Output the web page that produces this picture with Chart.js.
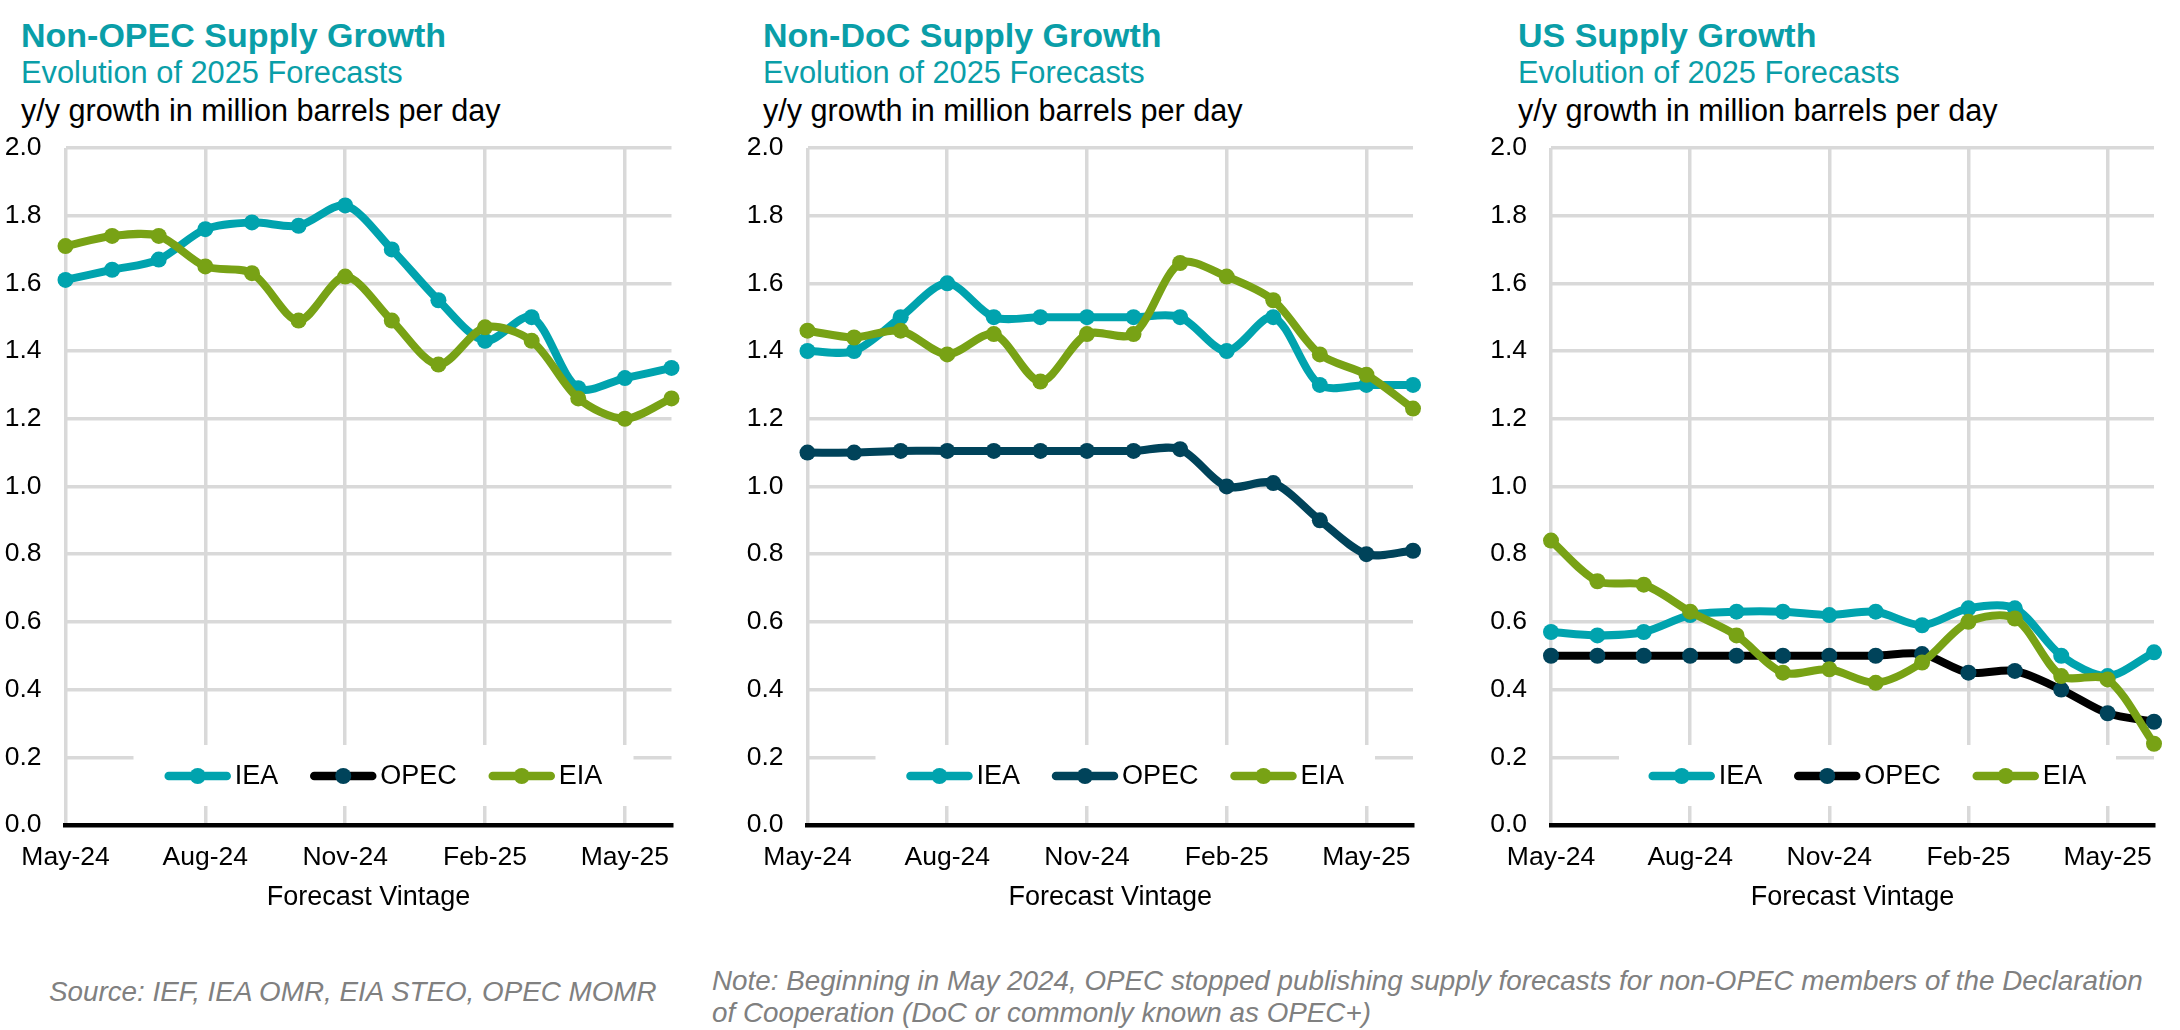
<!DOCTYPE html>
<html>
<head>
<meta charset="utf-8">
<script src="https://cdn.jsdelivr.net/npm/chart.js@4.4.1/dist/chart.umd.min.js"></script>
<style>
  html, body { margin: 0; padding: 0; background: #fff; }
  body { position: relative; width: 2180px; height: 1030px; overflow: hidden; font-family: 'Liberation Sans', Arial, sans-serif; }
  .txt { position: absolute; white-space: nowrap; line-height: 1; }
  .title { font-size: 34px; font-weight: bold; color: #0A9EA8; }
  .sub { font-size: 30.8px; color: #0A9EA8; }
  .unit { font-size: 30.6px; color: #000; }
  .foot { font-size: 27.8px; font-style: italic; color: #808080; }
  canvas { position: absolute; top: 108px; }
</style>
</head>
<body>
  <div class="txt title" style="left:21px;top:18px;">Non-OPEC Supply Growth</div>
  <div class="txt sub"   style="left:21px;top:58px;">Evolution of 2025 Forecasts</div>
  <div class="txt unit"  style="left:21px;top:95px;">y/y growth in million barrels per day</div>

  <div class="txt title" style="left:763px;top:18px;">Non-DoC Supply Growth</div>
  <div class="txt sub"   style="left:763px;top:58px;">Evolution of 2025 Forecasts</div>
  <div class="txt unit"  style="left:763px;top:95px;">y/y growth in million barrels per day</div>

  <div class="txt title" style="left:1518px;top:18px;">US Supply Growth</div>
  <div class="txt sub"   style="left:1518px;top:58px;">Evolution of 2025 Forecasts</div>
  <div class="txt unit"  style="left:1518px;top:95px;">y/y growth in million barrels per day</div>

  <canvas id="nonOpecChart" width="690" height="806" style="left:0px;"></canvas>
  <canvas id="nonDocChart"  width="690" height="806" style="left:740px;"></canvas>
  <canvas id="usChart"      width="700" height="806" style="left:1480px;"></canvas>

  <div class="txt foot" style="left:49px;top:978px;">Source: IEF, IEA OMR, EIA STEO, OPEC MOMR</div>
  <div class="txt foot" style="left:712px;top:965px;line-height:32px;">Note: Beginning in May 2024, OPEC stopped publishing supply forecasts for non-OPEC members of the Declaration<br>of Cooperation (DoC or commonly known as OPEC+)</div>

<script>
// ── Data (y/y growth, mb/d, by forecast vintage) ─────────────
const months = ['May-24','Jun-24','Jul-24','Aug-24','Sep-24','Oct-24','Nov-24','Dec-24','Jan-25','Feb-25','Mar-25','Apr-25','May-25','Jun-25'];
const yTicks = [0, 0.2, 0.4, 0.6, 0.8, 1.0, 1.2, 1.4, 1.6, 1.8, 2.0];

const nonOpecIEA  = [1.61, 1.64, 1.67, 1.76, 1.78, 1.77, 1.83, 1.70, 1.55, 1.43, 1.50, 1.29, 1.32, 1.35];
const nonOpecOPEC = []; // OPEC no longer publishes this one
const nonOpecEIA  = [1.71, 1.74, 1.74, 1.65, 1.63, 1.49, 1.62, 1.49, 1.36, 1.47, 1.43, 1.26, 1.20, 1.26];

const nonDocIEA  = [1.40, 1.40, 1.50, 1.60, 1.50, 1.50, 1.50, 1.50, 1.50, 1.40, 1.50, 1.30, 1.30, 1.30];
const nonDocOPEC = [1.10, 1.10, 1.105, 1.105, 1.105, 1.105, 1.105, 1.105, 1.11, 1.00, 1.01, 0.90, 0.80, 0.81];
const nonDocEIA  = [1.46, 1.44, 1.46, 1.39, 1.45, 1.31, 1.45, 1.45, 1.66, 1.62, 1.55, 1.39, 1.33, 1.23];

const usIEA  = [0.57, 0.56, 0.57, 0.62, 0.63, 0.63, 0.62, 0.63, 0.59, 0.64, 0.64, 0.50, 0.44, 0.51];
const usOPEC = [0.50, 0.50, 0.50, 0.50, 0.50, 0.50, 0.50, 0.50, 0.505, 0.45, 0.455, 0.40, 0.33, 0.305];
const usEIA  = [0.84, 0.72, 0.71, 0.63, 0.56, 0.45, 0.46, 0.42, 0.48, 0.60, 0.61, 0.44, 0.43, 0.24];

const FONT = "'Liberation Sans', Arial, sans-serif";
const CLR = { iea: '#00A3AE', opec: '#00435A', eia: '#78A215', black: '#000000', grid: '#D9D9D9' };

// ── Legend drawn inside the plot, on a white box ────────────
const boxLegend = {
  id: 'boxLegend',
  beforeDatasetsDraw(chart) {
    const { ctx, chartArea: a } = chart;
    const x0 = a.left + 68, x1 = a.right - 38;
    const top = a.bottom - 80, bot = a.bottom - 19;
    const y = a.bottom - 49;
    const sample = 66, gapText = 4, gapItem = 32;

    ctx.save();
    ctx.fillStyle = '#fff';
    ctx.fillRect(x0, top, x1 - x0, bot - top);
    ctx.font = `27px ${FONT}`;
    ctx.textBaseline = 'middle';

    const items = chart.data.datasets.map(ds => ({ ds, w: ctx.measureText(ds.label).width }));
    const total = items.reduce((s, it) => s + sample + gapText + it.w, 0) + gapItem * (items.length - 1);
    let x = (x0 + x1) / 2 - total / 2;

    items.forEach(({ ds, w }) => {
      ctx.strokeStyle = ds.borderColor;
      ctx.lineWidth = 8.5;
      ctx.lineCap = 'round';
      ctx.beginPath();
      ctx.moveTo(x + 4, y);
      ctx.lineTo(x + sample - 4, y);
      ctx.stroke();
      ctx.fillStyle = ds.pointBackgroundColor;
      ctx.beginPath();
      ctx.arc(x + sample / 2, y, 8, 0, Math.PI * 2);
      ctx.fill();
      ctx.fillStyle = '#000';
      ctx.fillText(ds.label, x + sample + gapText, y + 1);
      x += sample + gapText + w + gapItem;
    });
    ctx.restore();
  }
};

function series(label, data, color, dot, order) {
  return {
    label, data, order,
    borderColor: color,
    backgroundColor: dot || color,
    pointBackgroundColor: dot || color,
    pointBorderWidth: 0,
    pointRadius: 8,
    borderWidth: 8,
    tension: 0.3,
    clip: false,
  };
}

function makeChart(id, datasets, axisWidth, padRight) {
  return new Chart(document.getElementById(id), {
    type: 'line',
    data: { labels: months, datasets },
    plugins: [boxLegend],
    options: {
      responsive: false,
      animation: false,
      events: [],
      // top space comes from the y tick labels (half height + padding)
      layout: { padding: { top: 0, right: padRight, bottom: 0, left: 0 } },
      plugins: { legend: { display: false }, tooltip: { enabled: false } },
      scales: {
        x: {
          type: 'category',
          offset: false,
          afterFit: s => { s.height = 89; },
          grid: {
            color: c => (c.index % 3 === 0 ? CLR.grid : 'rgba(0,0,0,0)'),
            lineWidth: 3.5,
            drawTicks: false,
          },
          border: { display: true, color: CLR.black, width: 4.5 },
          ticks: {
            autoSkip: false,
            maxRotation: 0,
            padding: 17,
            color: '#000',
            font: { family: FONT, size: 26.5 },
            callback: (v, i) => (i % 3 === 0 ? months[i] : ''),
          },
          title: {
            display: true,
            text: 'Forecast Vintage',
            color: '#000',
            font: { family: FONT, size: 27 },
            padding: 0,
          },
        },
        y: {
          min: 0,
          max: 2,
          afterFit: s => { s.width = axisWidth; },
          afterBuildTicks: s => { s.ticks = yTicks.map(v => ({ value: v })); },
          grid: { color: CLR.grid, lineWidth: 3.5, drawTicks: false },
          border: { display: false },
          ticks: {
            padding: 24,
            color: '#000',
            font: { family: FONT, size: 26.5 },
            callback: v => v.toFixed(1),
          },
        },
      },
    },
  });
}

// ── Charts ──────────────────────────────────────────────────
makeChart('nonOpecChart', [
  series('IEA', nonOpecIEA, CLR.iea, null, 2),
  series('OPEC', nonOpecOPEC, CLR.black, CLR.opec, 1),
  series('EIA', nonOpecEIA, CLR.eia, null, 0),
], 65.5, 18.5);

makeChart('nonDocChart', [
  series('IEA', nonDocIEA, CLR.iea, null, 2),
  series('OPEC', nonDocOPEC, CLR.opec, null, 1),
  series('EIA', nonDocEIA, CLR.eia, null, 0),
], 67.5, 17);

makeChart('usChart', [
  series('IEA', usIEA, CLR.iea, null, 2),
  series('OPEC', usOPEC, CLR.black, CLR.opec, 1),
  series('EIA', usEIA, CLR.eia, null, 0),
], 71, 26);
</script>
</body>
</html>
